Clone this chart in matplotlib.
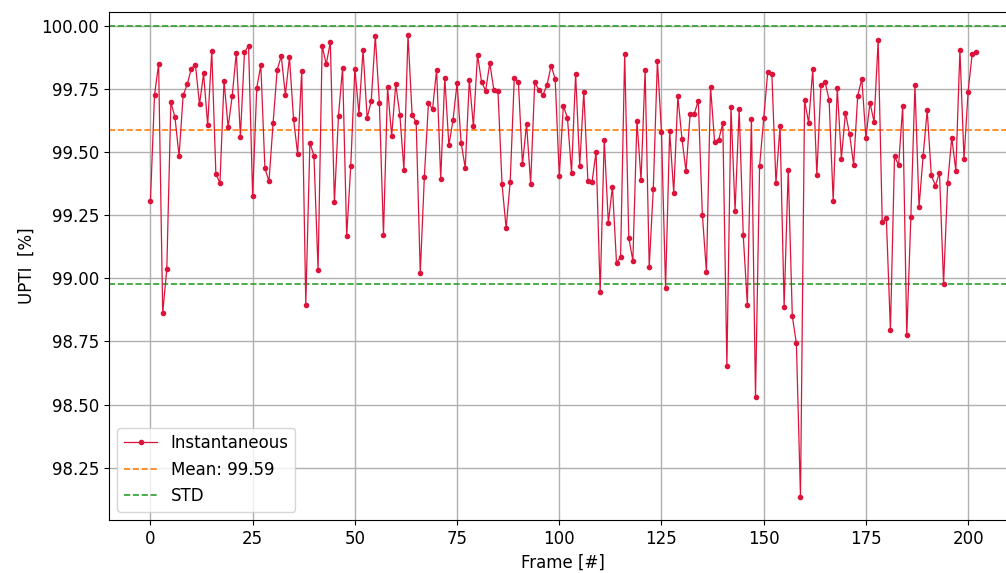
import matplotlib
matplotlib.use("Agg")
import matplotlib.pyplot as plt
import numpy as np

upti = [
    99.307, 99.726, 99.848, 98.862, 99.037, 99.697, 99.637, 99.484, 99.724, 99.768,
    99.830, 99.846, 99.688, 99.811, 99.606, 99.901, 99.414, 99.377, 99.782, 99.598,
    99.722, 99.893, 99.561, 99.894, 99.921, 99.326, 99.753, 99.843, 99.435, 99.384,
    99.614, 99.825, 99.879, 99.726, 99.875, 99.631, 99.492, 99.822, 98.896, 99.537,
    99.484, 99.033, 99.920, 99.847, 99.935, 99.300, 99.644, 99.834, 99.166, 99.446,
    99.830, 99.651, 99.904, 99.635, 99.701, 99.960, 99.693, 99.172, 99.756, 99.563,
    99.768, 99.648, 99.430, 99.963, 99.648, 99.617, 99.021, 99.401, 99.694, 99.669,
    99.826, 99.393, 99.794, 99.526, 99.625, 99.772, 99.536, 99.437, 99.785, 99.602,
    99.885, 99.776, 99.743, 99.852, 99.745, 99.743, 99.372, 99.198, 99.383, 99.794,
    99.778, 99.451, 99.610, 99.375, 99.777, 99.745, 99.726, 99.764, 99.842, 99.789,
    99.406, 99.683, 99.635, 99.418, 99.809, 99.446, 99.739, 99.384, 99.380, 99.500,
    98.945, 99.549, 99.219, 99.363, 99.060, 99.085, 99.888, 99.160, 99.070, 99.623,
    99.389, 99.825, 99.044, 99.355, 99.861, 99.579, 98.961, 99.583, 99.338, 99.720,
    99.553, 99.424, 99.650, 99.650, 99.703, 99.252, 99.024, 99.759, 99.538, 99.548,
    99.614, 98.651, 99.678, 99.267, 99.670, 99.170, 98.896, 99.631, 98.528, 99.445,
    99.633, 99.818, 99.808, 99.377, 99.603, 98.888, 99.429, 98.850, 98.742, 98.134,
    99.704, 99.615, 99.827, 99.409, 99.765, 99.778, 99.706, 99.306, 99.752, 99.474,
    99.655, 99.571, 99.450, 99.722, 99.790, 99.556, 99.695, 99.619, 99.942, 99.223,
    99.237, 98.795, 99.483, 99.447, 99.681, 98.774, 99.243, 99.764, 99.282, 99.485,
    99.665, 99.407, 99.367, 99.418, 98.978, 99.376, 99.557, 99.426, 99.904, 99.471,
    99.739, 99.888, 99.897,
]
frames = list(range(len(upti)))
mean_value = 99.587
std_upper = 100.0
std_lower = 98.977

plt.rcParams['font.family'] = ['DejaVu Sans']
plt.rcParams['font.size'] = 12

fig = plt.figure(figsize=(10.06, 5.73), dpi=100)
ax = fig.add_axes([0.1085, 0.0925, 0.903, 0.887])

ax.plot(frames, upti, color='crimson', lw=0.9, marker='o', markersize=3,
        label='Instantaneous', zorder=3)
ax.axhline(mean_value, color='tab:orange', ls='--', lw=1.2,
           label=f'Mean: {mean_value:.2f}', zorder=2)
ax.axhline(std_upper, color='tab:green', ls='--', lw=1.2, label='STD', zorder=2)
ax.axhline(std_lower, color='tab:green', ls='--', lw=1.2, zorder=2)

ax.set_xlim(-10.1, 212.1)
ax.set_ylim(98.043, 100.055)
ax.set_yticks([98.25, 98.50, 98.75, 99.00, 99.25, 99.50, 99.75, 100.00])
ax.yaxis.set_major_formatter(matplotlib.ticker.FormatStrFormatter('%.2f'))
ax.set_xticks([0, 25, 50, 75, 100, 125, 150, 175, 200])
ax.grid(True, color='#b0b0b0', lw=1.0)
ax.set_axisbelow(True)
ax.set_xlabel('Frame [#]')
ax.set_ylabel('UPTI  [%]')
ax.legend(loc='lower left')

fig.savefig('out.png', dpi=100)
